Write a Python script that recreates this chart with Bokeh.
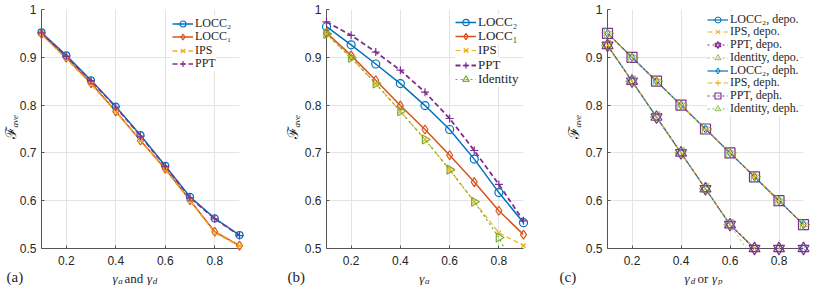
import math
from bokeh.plotting import figure
from bokeh.layouts import row
from bokeh.models import Range1d, FixedTicker, Legend, LegendItem
from bokeh.core.properties import value
from bokeh.embed import file_html
from bokeh.resources import INLINE

# ---------------- data ----------------
gamma = [0.1, 0.2, 0.3, 0.4, 0.5, 0.6, 0.7, 0.8, 0.9]
x_ticks = [0.2, 0.4, 0.6, 0.8]
y_ticks = [0.5, 0.6, 0.7, 0.8, 0.9, 1.0]
X_LIM = (0.1, 0.9)
Y_LIM = (0.5, 1.0)

# panel (a)
a_locc2 = [0.952, 0.904, 0.852, 0.797, 0.737, 0.673, 0.608, 0.563, 0.528]
a_locc1 = [0.949, 0.899, 0.846, 0.787, 0.726, 0.667, 0.601, 0.535, 0.506]
a_ips = [0.948, 0.897, 0.844, 0.786, 0.726, 0.665, 0.600, 0.533, 0.505]
a_ppt = [0.951, 0.902, 0.851, 0.796, 0.735, 0.672, 0.606, 0.562, 0.527]

# panel (b)
b_locc2 = [0.964, 0.926, 0.886, 0.845, 0.799, 0.749, 0.687, 0.617, 0.554]
b_locc1 = [0.951, 0.904, 0.852, 0.799, 0.749, 0.695, 0.639, 0.579, 0.529]
b_ips = [0.949, 0.899, 0.845, 0.787, 0.728, 0.665, 0.598, 0.533, 0.506]
b_ppt = [0.974, 0.946, 0.911, 0.873, 0.827, 0.772, 0.705, 0.634, 0.558]
b_identity = [0.949, 0.899, 0.845, 0.787, 0.728, 0.665, 0.598, 0.523, 0.420]

# panel (c)
c_locc2_depo = [0.925, 0.850, 0.775, 0.700, 0.625, 0.550, 0.500, 0.500, 0.500]
c_ips_depo = [0.925, 0.850, 0.775, 0.700, 0.625, 0.550, 0.500, 0.500, 0.500]
c_ppt_depo = [0.925, 0.850, 0.775, 0.700, 0.625, 0.550, 0.500, 0.500, 0.500]
c_identity_depo = [0.925, 0.850, 0.775, 0.700, 0.625, 0.550, 0.475, 0.400, 0.325]
c_locc2_deph = [0.950, 0.900, 0.850, 0.800, 0.750, 0.700, 0.650, 0.600, 0.550]
c_ips_deph = [0.950, 0.900, 0.850, 0.800, 0.750, 0.700, 0.650, 0.600, 0.550]
c_ppt_deph = [0.950, 0.900, 0.850, 0.800, 0.750, 0.700, 0.650, 0.600, 0.550]
c_identity_deph = [0.950, 0.900, 0.850, 0.800, 0.750, 0.700, 0.650, 0.600, 0.550]

BLUE = "#0072BD"
ORANGE = "#D95319"
YELLOW = "#EDB120"
PURPLE = "#7E2F8E"
GREEN = "#77AC30"
TXT = "#262626"
SERIF = "'Liberation Serif', 'Times New Roman', serif"
SANS = "'Liberation Sans', Arial, Helvetica, sans-serif"

FIG_H = 285
B_TOP = 9
B_BOT = 37
FRAME_H = FIG_H - B_TOP - B_BOT


def make_fig(width, left, right):
    p = figure(width=width, height=FIG_H,
               x_range=Range1d(*X_LIM), y_range=Range1d(*Y_LIM),
               output_backend="svg", toolbar_location=None,
               min_border_left=left, min_border_right=right,
               min_border_top=B_TOP, min_border_bottom=B_BOT)
    p.outline_line_color = None
    p.background_fill_color = "white"
    p.xaxis.ticker = FixedTicker(ticks=x_ticks)
    p.yaxis.ticker = FixedTicker(ticks=y_ticks)
    p.yaxis.major_label_overrides = {1.0: "1"}
    for ax in (p.xaxis, p.yaxis):
        ax.axis_line_color = "#555555"
        ax.axis_line_width = 1
        ax.major_tick_line_color = "#555555"
        ax.major_tick_in = 3
        ax.major_tick_out = 0
        ax.minor_tick_line_color = None
        ax.major_label_text_font = SANS
        ax.major_label_text_font_size = "12px"
        ax.major_label_text_color = TXT
    p.xaxis.major_label_standoff = 7
    p.yaxis.major_label_standoff = 5
    p.xgrid.grid_line_color = "#e4e4e4"
    p.ygrid.grid_line_color = "#e4e4e4"
    return p


def txt(p, text, dx, dy, size, font=SERIF, style="normal", angle=0.0,
        align="left", baseline="alphabetic"):
    """Text placed at the frame's lower-left corner, offset dx px right and dy px down."""
    p.text(x=[X_LIM[0]], y=[Y_LIM[0]], text=[text], x_offset=dx, y_offset=dy,
           text_font=value(font), text_font_size=f"{size}px",
           text_font_style=style, angle=angle, text_align=align,
           text_baseline=baseline, text_color=TXT, level="annotation")


def series(p, ys, color, markers, size, lw=1.5, dash="solid", mlw=1.2):
    r_line = p.line(gamma, ys, line_color=color, line_width=lw, line_dash=dash)
    ym = [v if v >= Y_LIM[0] else float("nan") for v in ys]
    rs = [r_line]
    for mname, ang in markers:
        rs.append(p.scatter(gamma, ym, marker=mname, size=size, angle=ang,
                            line_color=color, fill_color=None, line_width=mlw,
                            level="annotation"))
    return rs


def add_legend(p, items, x, first, stride, fsize, row_h):
    """One single-entry legend per row, so that the row pitch is exact.
    Added bottom-up so each upper box sits above the next one."""
    entries = list(enumerate(items))
    for i, (label, rs) in reversed(entries):
        centre = first + i * stride
        leg = Legend(items=[LegendItem(label=label, renderers=rs)],
                     location=(x, FRAME_H - centre - row_h / 2))
        leg.label_text_font = SERIF
        leg.label_text_font_size = f"{fsize}px"
        leg.label_text_color = TXT
        leg.glyph_width = 21
        leg.glyph_height = row_h
        leg.label_height = row_h
        leg.label_standoff = 2
        leg.spacing = 0
        leg.padding = 0
        leg.margin = 0
        leg.border_line_color = None
        leg.background_fill_color = "white"
        leg.background_fill_alpha = 1.0
        p.add_layout(leg)


def y_title(p, dx):
    txt(p, "\u2131", dx, -116, 15, font="DejaVu Serif", angle=math.pi / 2,
        align="center", baseline="middle")
    txt(p, "ave", dx + 4.5, -121, 9, style="italic", angle=math.pi / 2,
        align="left", baseline="middle")


DASH = "5 3"
DOT = "2 3"
C = [("circle", 0.0)]
D = [("diamond", 0.0)]
X = [("x", 0.0)]
P = [("cross", 0.0)]
SQ = [("square", 0.0)]
HEX = [("triangle", 0.0), ("inverted_triangle", 0.0)]
TR = [("triangle", -math.pi / 2)]
TL = [("triangle", math.pi / 2)]

# ---------------- (a) ----------------
pa = make_fig(272, 41, 33)
ra1 = series(pa, a_locc2, BLUE, C, 7)
ra2 = series(pa, a_locc1, ORANGE, D, 9)
ra3 = series(pa, a_ips, YELLOW, X, 6, dash=DASH)
ra4 = series(pa, a_ppt, PURPLE, P, 8, dash=DASH)
add_legend(pa, [("LOCC\u2082", ra1), ("LOCC\u2081", ra2), ("IPS", ra3), ("PPT", ra4)],
           131, 14.3, 13.4, 12, 15)
y_title(pa, -31)
txt(pa, "(a)", -35, 28, 15)
txt(pa, "\u03b3", 71, 29.5, 13, style="italic")
txt(pa, "a", 76.7, 32, 9, style="italic")
txt(pa, "and", 83, 29.5, 13)
txt(pa, "\u03b3", 105.5, 29.5, 13, style="italic")
txt(pa, "d", 111.2, 32, 9, style="italic")

# ---------------- (b) ----------------
pb = make_fig(272, 54, 21)
rb1 = series(pb, b_locc2, BLUE, C, 8)
rb2 = series(pb, b_locc1, ORANGE, D, 9)
rb3 = series(pb, b_ips, YELLOW, X, 6, dash=DASH, lw=1.2)
rb4 = series(pb, b_ppt, PURPLE, P, 8, dash=DASH, lw=1.8)
rb5 = series(pb, b_identity, GREEN, TR, 9, dash=DOT, lw=1.2)
add_legend(pb, [("LOCC\u2082", rb1), ("LOCC\u2081", rb2), ("IPS", rb3), ("PPT", rb4),
                ("Identity", rb5)], 129, 12.7, 14.3, 13, 16)
y_title(pb, -34)
txt(pb, "(b)", -39, 28, 15)
txt(pb, "\u03b3", 92.7, 29.5, 13, style="italic")
txt(pb, "a", 98.5, 32, 9, style="italic")

# ---------------- (c) ----------------
pc = make_fig(272, 63, 13)
rc1 = series(pc, c_locc2_depo, BLUE, C, 6, lw=1.2, mlw=1.0)
rc2 = series(pc, c_ips_depo, YELLOW, X, 6, lw=1.2, dash=DASH, mlw=1.0)
rc3 = series(pc, c_ppt_depo, PURPLE, HEX, 11, lw=1.2, dash=DOT, mlw=1.2)
rc4 = series(pc, c_identity_depo, GREEN, TL, 11, lw=0.8, dash=DOT, mlw=0.8)
rc5 = series(pc, c_locc2_deph, BLUE, D, 8, lw=1.2, mlw=1.0)
rc6 = series(pc, c_ips_deph, YELLOW, P, 7, lw=1.2, dash=DASH, mlw=1.0)
rc7 = series(pc, c_ppt_deph, PURPLE, SQ, 10, lw=1.2, dash=DOT, mlw=1.2)
rc8 = series(pc, c_identity_deph, GREEN, TR, 11, lw=0.8, dash=DOT, mlw=0.8)
add_legend(pc, [("LOCC\u2082, depo.", rc1), ("IPS, depo.", rc2), ("PPT, depo.", rc3),
                ("Identity, depo.", rc4), ("LOCC\u2082, deph.", rc5), ("IPS, deph.", rc6),
                ("PPT, deph.", rc7), ("Identity, deph.", rc8)], 100, 10, 12.76, 12, 15)
y_title(pc, -34)
txt(pc, "(c)", -48, 28, 15)
txt(pc, "\u03b3", 77, 29.5, 13, style="italic")
txt(pc, "d", 83.2, 32, 9, style="italic")
txt(pc, "or", 90, 29.5, 13)
txt(pc, "\u03b3", 104.5, 29.5, 13, style="italic")
txt(pc, "p", 110.5, 32, 9, style="italic")

layout = row(pa, pb, pc, spacing=0)
open("out.html", "w").write(file_html(layout, INLINE))
